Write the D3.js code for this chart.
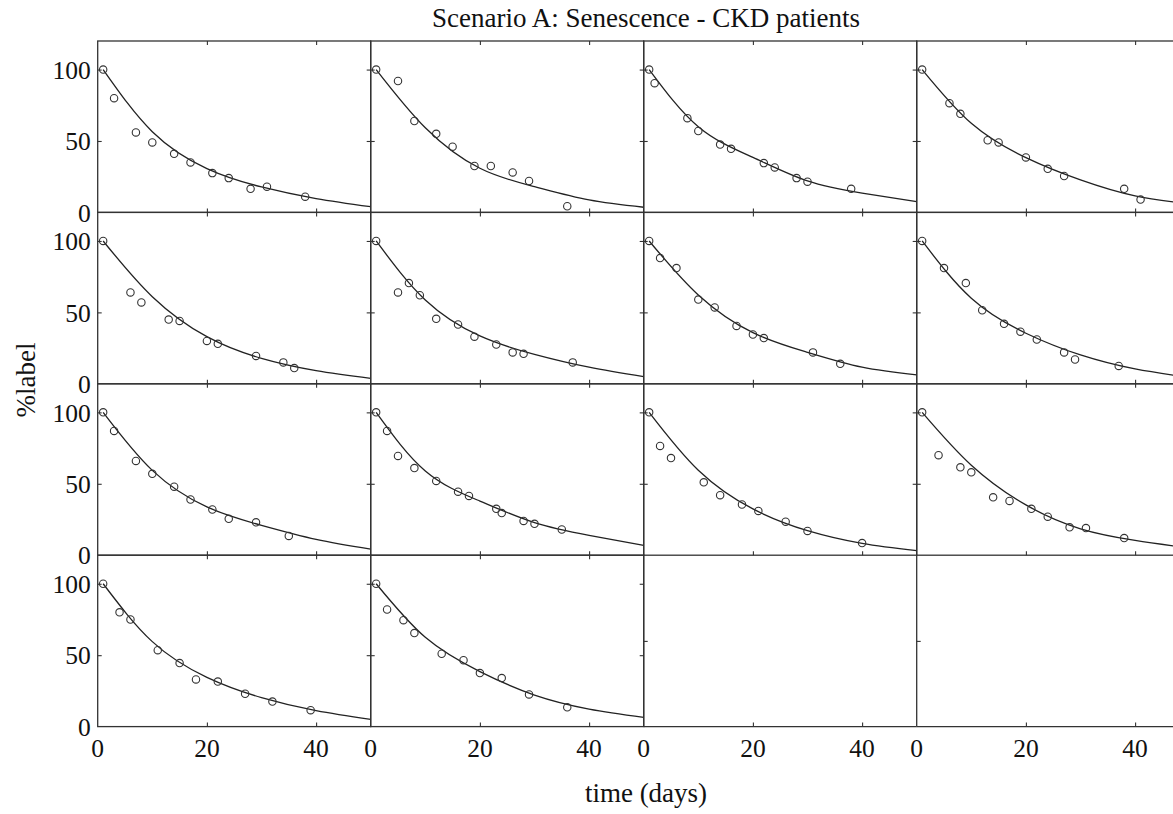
<!DOCTYPE html>
<html>
<head>
<meta charset="utf-8">
<script src="https://cdn.jsdelivr.net/npm/d3@7"></script>
<style>
  html, body { margin: 0; padding: 0; background: #fff; }
  svg { display: block; font-family: "Liberation Serif", "Times New Roman", serif; }
</style>
</head>
<body>
<svg id="chart" width="1173" height="814"></svg>
<script>
// Label decay per patient: measured %label (circles) and fitted senescence curve (line)
const timeTicks = [0, 20, 40];
const labelTicks = [0, 50, 100];
const emptyLabelTicks = [0.5];
const panelCount = 14;

const sampleDays = [
  [1, 3, 7, 10, 14, 17, 21, 24, 28, 31, 38],
  [1, 5, 8, 12, 15, 19, 22, 26, 29, 36],
  [1, 2, 8, 10, 14, 16, 22, 24, 28, 30, 38],
  [1, 6, 8, 13, 15, 20, 24, 27, 38, 41],
  [1, 6, 8, 13, 15, 20, 22, 29, 34, 36],
  [1, 5, 7, 9, 12, 16, 19, 23, 26, 28, 37],
  [1, 3, 6, 10, 13, 17, 20, 22, 31, 36],
  [1, 5, 9, 12, 16, 19, 22, 27, 29, 37],
  [1, 3, 7, 10, 14, 17, 21, 24, 29, 35],
  [1, 3, 5, 8, 12, 16, 18, 23, 24, 28, 30, 35],
  [1, 3, 5, 11, 14, 18, 21, 26, 30, 40],
  [1, 4, 8, 10, 14, 17, 21, 24, 28, 31, 38],
  [1, 4, 6, 11, 15, 18, 22, 27, 32, 39],
  [1, 3, 6, 8, 13, 17, 20, 24, 29, 36]
];

const sampleLabel = [
  [100, 80, 56, 49, 41, 35, 27.5, 24, 16.5, 18, 11],
  [100, 92, 64, 55, 46, 32.5, 32.5, 28, 22, 4.3],
  [100, 90.5, 66, 57, 47.5, 44.5, 34.5, 31.5, 24, 21.5, 16.5],
  [100, 76.5, 69, 50.5, 49, 38.5, 30.5, 25.5, 16.5, 9],
  [100, 64, 57, 45, 44, 30, 28, 19.5, 15, 11],
  [100, 64, 70.5, 62, 45.5, 41.5, 33, 27.5, 22, 21, 15],
  [100, 88, 81, 59, 53.5, 40.5, 34.5, 32, 22, 14],
  [100, 81, 70.5, 51.5, 42, 36.5, 31, 22, 17, 12.5],
  [100, 87, 66, 57, 48, 39, 32, 25.5, 23, 13.5],
  [100, 87, 69.5, 61, 52, 44.5, 41.5, 32.5, 29.5, 24, 22, 18],
  [100, 76.5, 68, 51, 42, 35.5, 31, 23.5, 17, 8.5],
  [100, 70, 61.5, 58, 40.5, 38, 32.5, 27, 19.5, 19, 12],
  [100, 80, 75, 53.5, 44.5, 33, 31.5, 23, 17.5, 11.5],
  [100, 82, 74.5, 65.5, 51, 46.5, 37.5, 34, 22.5, 13.5]
];

// fitted curve, read at these days
const fitDays = [1, 10, 20, 30, 40, 50];
const fitLabel = [
  [100, 56.5, 30.7, 17.8, 9.7, 4.0],
  [100, 59.3, 30.9, 18.0, 8.7, 3.6],
  [100, 60.0, 38.5, 22.0, 13.5, 7.5],
  [100, 62.4, 38.3, 22.7, 11.5, 6.0],
  [100, 61.0, 33.0, 17.8, 9.2, 3.8],
  [100, 58.7, 33.5, 20.6, 11.6, 5.0],
  [100, 62.2, 35.8, 22.0, 11.6, 6.2],
  [100, 59.9, 35.4, 20.2, 10.4, 4.5],
  [100, 59.4, 33.8, 20.9, 11.1, 4.3],
  [100, 59.0, 37.9, 22.8, 13.9, 6.9],
  [100, 59.5, 32.4, 17.2, 8.3, 3.2],
  [100, 63.0, 35.2, 18.5, 10.4, 5.0],
  [100, 59.5, 34.5, 20.3, 11.2, 5.1],
  [100, 62.5, 38.5, 22.1, 12.3, 6.5]
];

const titleText = "Scenario A: Senescence - CKD patients";
const xTitle = "time (days)";
const yTitle = "%label";

// layout
const nCols = 4, nRows = 4;
const gridLeft = 97.7, gridTop = 41;
const pw = 273, ph = 171.4;
const ink = "#333";
const tickFont = 25.5, titleFont = 27;

const svg = d3.select("#chart");

const x = d3.scaleLinear().domain([0, 50]).range([0, pw]);
const y = d3.scaleLinear().domain([0, 120]).range([ph, 0]);
const yEmpty = d3.scaleLinear().domain([0, 1]).range([ph, 0]);

const line = d3.line()
  .x(d => x(d[0]))
  .y(d => y(d[1]))
  .curve(d3.curveNatural);

function styleAxis(g) {
  g.select(".domain").remove();
  g.selectAll(".tick line").attr("stroke", ink).attr("stroke-width", 1.1);
  g.selectAll(".tick text").remove();
}

for (let p = 0; p < nRows * nCols; p++) {
  const r = Math.floor(p / nCols), c = p % nCols;
  const g = svg.append("g").attr("transform", `translate(${gridLeft + c * pw},${gridTop + r * ph})`);
  const filled = p < panelCount;

  if (filled) {
    g.append("rect")
      .attr("x", 0).attr("y", 0).attr("width", pw).attr("height", ph)
      .attr("fill", "none").attr("stroke", ink).attr("stroke-width", 1.3);

    g.append("g").attr("transform", `translate(0,${ph})`)
      .call(d3.axisBottom(x).tickValues(timeTicks.slice(1)).tickSizeInner(-4).tickSizeOuter(0))
      .call(styleAxis);
    g.append("g")
      .call(d3.axisTop(x).tickValues(timeTicks.slice(1)).tickSizeInner(-4).tickSizeOuter(0))
      .call(styleAxis);
    g.append("g")
      .call(d3.axisLeft(y).tickValues(labelTicks.slice(1)).tickSizeInner(-4).tickSizeOuter(0))
      .call(styleAxis);
    g.append("g").attr("transform", `translate(${pw},0)`)
      .call(d3.axisRight(y).tickValues(labelTicks.slice(1)).tickSizeInner(-4).tickSizeOuter(0))
      .call(styleAxis);

    const fit = fitDays.map((d, i) => [d, fitLabel[p][i]]);
    g.append("path")
      .datum(fit)
      .attr("d", line)
      .attr("fill", "none")
      .attr("stroke", "#222")
      .attr("stroke-width", 1.3);

    const pts = sampleDays[p].map((d, i) => [d, sampleLabel[p][i]]);
    g.selectAll("circle.obs")
      .data(pts)
      .join("circle")
      .attr("class", "obs")
      .attr("cx", d => x(d[0]))
      .attr("cy", d => y(d[1]))
      .attr("r", 3.7)
      .attr("fill", "none")
      .attr("stroke", ink)
      .attr("stroke-width", 1.1);
  } else {
    // empty frame: left and bottom edges only, with default ticks
    g.append("line").attr("x1", 0).attr("y1", 0).attr("x2", 0).attr("y2", ph)
      .attr("stroke", ink).attr("stroke-width", 1.3);
    g.append("line").attr("x1", 0).attr("y1", ph).attr("x2", pw).attr("y2", ph)
      .attr("stroke", ink).attr("stroke-width", 1.3);
    g.append("g").attr("transform", `translate(0,${ph})`)
      .call(d3.axisBottom(x).tickValues(timeTicks.slice(1)).tickSizeInner(-4).tickSizeOuter(0))
      .call(styleAxis);
    g.append("g")
      .call(d3.axisLeft(yEmpty).tickValues(emptyLabelTicks).tickSizeInner(-4).tickSizeOuter(0))
      .call(styleAxis);
  }

  // time tick labels along the bottom row
  if (r === nRows - 1) {
    g.selectAll("text.xt")
      .data(timeTicks)
      .join("text")
      .attr("class", "xt")
      .attr("x", d => x(d))
      .attr("y", ph + 30.5)
      .attr("text-anchor", "middle")
      .attr("font-size", tickFont)
      .attr("fill", "#111")
      .text(d => d);
  }
  // %label tick labels down the first column
  if (c === 0) {
    g.selectAll("text.yt")
      .data(labelTicks)
      .join("text")
      .attr("class", "yt")
      .attr("x", -7)
      .attr("y", d => y(d))
      .attr("dy", "0.36em")
      .attr("text-anchor", "end")
      .attr("font-size", tickFont)
      .attr("fill", "#111")
      .text(d => d);
  }
}

svg.append("text")
  .attr("x", 646).attr("y", 26.5)
  .attr("text-anchor", "middle")
  .attr("font-size", titleFont)
  .attr("fill", "#111")
  .text(titleText);

svg.append("text")
  .attr("x", 646).attr("y", 802)
  .attr("text-anchor", "middle")
  .attr("font-size", titleFont)
  .attr("fill", "#111")
  .text(xTitle);

svg.append("text")
  .attr("transform", "translate(35,380) rotate(-90)")
  .attr("text-anchor", "middle")
  .attr("font-size", titleFont)
  .attr("fill", "#111")
  .text(yTitle);
</script>
</body>
</html>
